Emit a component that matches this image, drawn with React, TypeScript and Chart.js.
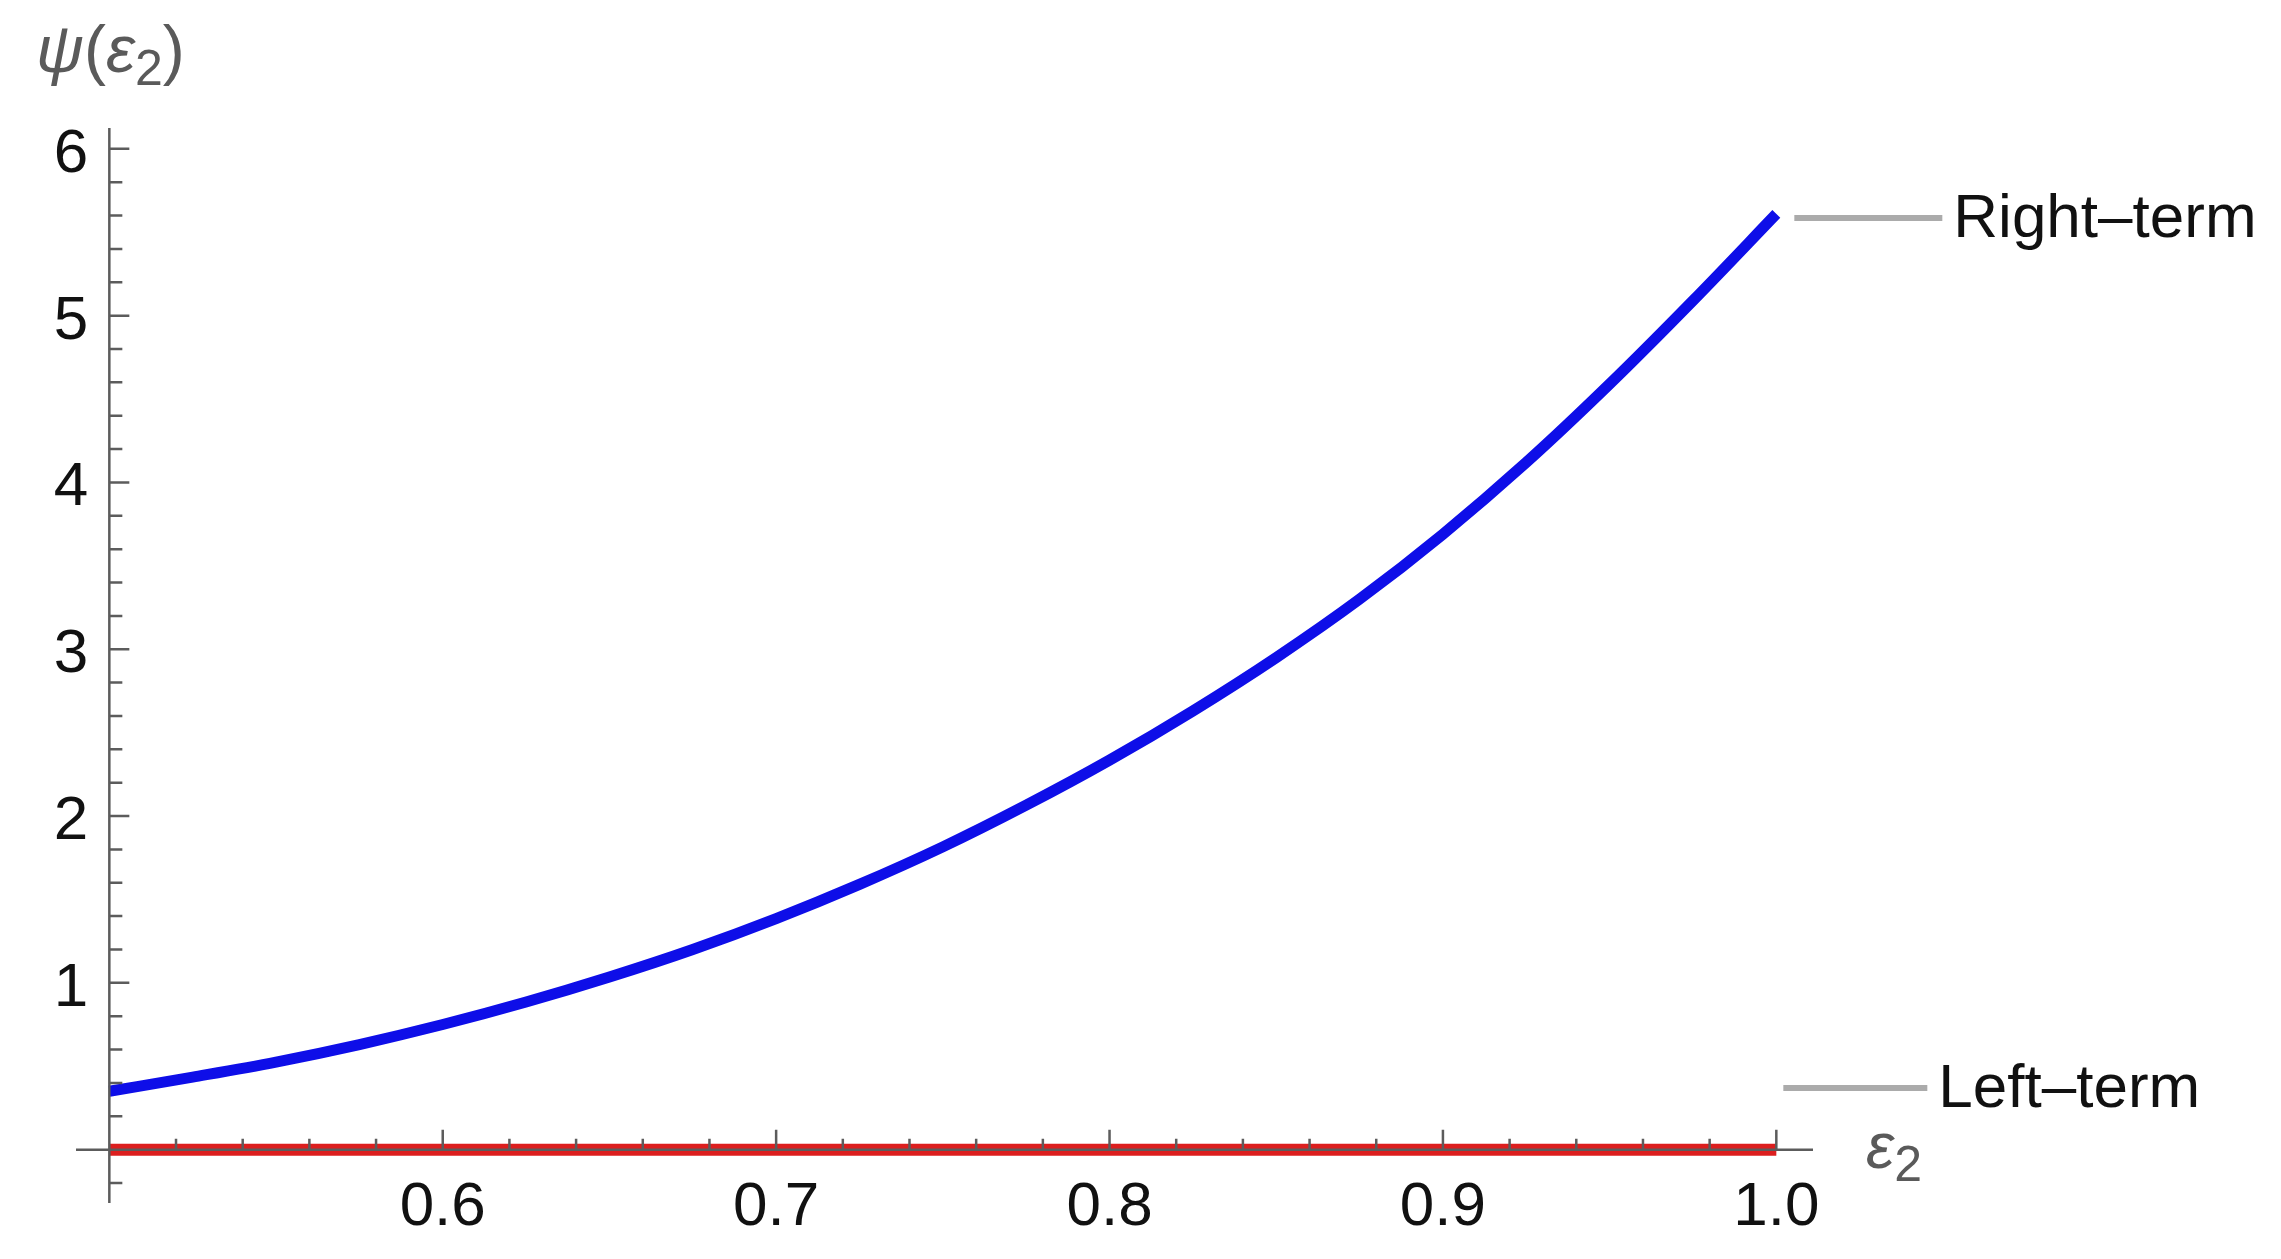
import React, { useEffect, useRef } from "react";
import { Chart, registerables } from "chart.js";

Chart.register(...registerables);

// ε2 sample positions
const epsilon2 = [
  0.5, 0.525, 0.55, 0.575, 0.6, 0.625, 0.65, 0.675, 0.7, 0.725, 0.75,
  0.775, 0.8, 0.825, 0.85, 0.875, 0.9, 0.925, 0.95, 0.975, 1.0,
];
// Right-term (blue curve)
const rightTerm = [
  0.35, 0.435, 0.525, 0.63, 0.75, 0.885, 1.035, 1.2, 1.385, 1.59, 1.815,
  2.065, 2.335, 2.63, 2.95, 3.3, 3.69, 4.12, 4.59, 5.09, 5.61,
];
// Left-term (red line)
const leftTerm = [
  0, 0, 0, 0, 0, 0, 0, 0, 0, 0, 0,
  0, 0, 0, 0, 0, 0, 0, 0, 0, 0,
];
const xTicks = [0.6, 0.7, 0.8, 0.9, 1.0];
const xTickLabels = ["0.6", "0.7", "0.8", "0.9", "1.0"];
const yTicks = [1, 2, 3, 4, 5, 6];
const yTickLabels = ["1", "2", "3", "4", "5", "6"];
const seriesNames = ["Right–term", "Left–term"];

const FONT = '"Liberation Sans", Arial, sans-serif';

const axesPlugin = {
  id: "mmaAxes",
  afterDatasetsDraw(chart: any) {
    const { ctx, chartArea, scales } = chart;
    const xs = scales.x;
    const ys = scales.y;
    const x0 = xs.getPixelForValue(0.5);
    const y0 = ys.getPixelForValue(0);
    ctx.save();
    ctx.strokeStyle = "#5c5c5c";
    ctx.lineWidth = 2.5;
    ctx.beginPath();
    ctx.moveTo(chartArea.left, y0);
    ctx.lineTo(chartArea.right, y0);
    ctx.moveTo(x0, chartArea.top);
    ctx.lineTo(x0, chartArea.bottom);
    // x ticks (minor every 0.02)
    for (let i = 1; i <= 25; i++) {
      const v = 0.5 + i * 0.02;
      const px = xs.getPixelForValue(v);
      const major = i % 5 === 0;
      ctx.moveTo(px, y0);
      ctx.lineTo(px, y0 - (major ? 20 : 11));
    }
    // y ticks (minor every 0.2)
    for (let i = -1; i <= 30; i++) {
      const v = i * 0.2;
      if (i === 0) continue;
      const py = ys.getPixelForValue(v);
      const major = i % 5 === 0;
      ctx.moveTo(x0, py);
      ctx.lineTo(x0 + (major ? 20 : 13), py);
    }
    ctx.stroke();

    // tick labels
    ctx.fillStyle = "#111";
    ctx.font = `62px ${FONT}`;
    ctx.textBaseline = "alphabetic";
    ctx.textAlign = "center";
    xTicks.forEach((v, i) => {
      ctx.fillText(xTickLabels[i], xs.getPixelForValue(v), y0 + 75);
    });
    ctx.textAlign = "right";
    yTicks.forEach((v, i) => {
      ctx.fillText(yTickLabels[i], x0 - 21, ys.getPixelForValue(v) + 23);
    });

    // axis titles
    ctx.fillStyle = "#5a5a5a";
    ctx.textAlign = "left";
    const drawParts = (parts: [string, string, number][], sx: number, by: number) => {
      let cx = sx;
      for (const [t, f, dy] of parts) {
        ctx.font = f;
        ctx.fillText(t, cx, by + dy);
        cx += ctx.measureText(t).width;
      }
    };
    drawParts(
      [
        ["ψ", `italic 66px ${FONT}`, 0],
        ["(", `66px ${FONT}`, 0],
        ["ε", `italic 66px ${FONT}`, 0],
        ["2", `50px ${FONT}`, 13],
        [")", `66px ${FONT}`, 0],
      ],
      36,
      72
    );
    drawParts(
      [
        ["ε", `italic 64px ${FONT}`, 0],
        ["2", `50px ${FONT}`, 13],
      ],
      1866,
      1168
    );

    // series labels with connectors
    const xEnd = xs.getPixelForValue(1.0);
    const labels: [string, number, number, number][] = [
      [seriesNames[0], ys.getPixelForValue(rightTerm[rightTerm.length - 1]) + 4, 18, 166],
      [seriesNames[1], ys.getPixelForValue(0.37), 7, 151],
    ];
    for (const [txt, py, a, b] of labels) {
      ctx.strokeStyle = "#ababab";
      ctx.lineWidth = 6;
      ctx.beginPath();
      ctx.moveTo(xEnd + a, py);
      ctx.lineTo(xEnd + b, py);
      ctx.stroke();
      ctx.fillStyle = "#111";
      ctx.font = `62px ${FONT}`;
      ctx.textBaseline = "middle";
      ctx.fillText(txt, xEnd + b + 11, py + 2);
      ctx.textBaseline = "alphabetic";
    }
    ctx.restore();
  },
};

export default function App() {
  const ref = useRef<HTMLCanvasElement | null>(null);
  useEffect(() => {
    if (!ref.current) return;
    const chart = new Chart(ref.current, {
      type: "line",
      data: {
        datasets: [
          {
            label: seriesNames[1],
            data: epsilon2.map((x, i) => ({ x, y: leftTerm[i] })),
            borderColor: "rgb(220,30,30)",
            borderWidth: 12,
            pointRadius: 0,
            borderCapStyle: "butt",
            tension: 0,
          },
          {
            label: seriesNames[0],
            data: epsilon2.map((x, i) => ({ x, y: rightTerm[i] })),
            borderColor: "rgb(14,14,232)",
            borderWidth: 11,
            pointRadius: 0,
            borderCapStyle: "butt",
            cubicInterpolationMode: "monotone",
          },
        ],
      },
      options: {
        responsive: false,
        animation: false,
        devicePixelRatio: 1,
        layout: { padding: { left: 76, right: 468, top: 128, bottom: 56 } },
        plugins: { legend: { display: false }, tooltip: { enabled: false } },
        scales: {
          x: { type: "linear", min: 0.49, max: 1.011, display: false },
          y: { type: "linear", min: -0.32, max: 6.125, display: false },
        },
      },
      plugins: [axesPlugin],
    } as any);
    return () => chart.destroy();
  }, []);
  return (
    <div style={{ position: "fixed", left: 0, top: 0, width: 2281, height: 1259, background: "#fff" }}>
      <canvas ref={ref} width={2281} height={1259} />
    </div>
  );
}
